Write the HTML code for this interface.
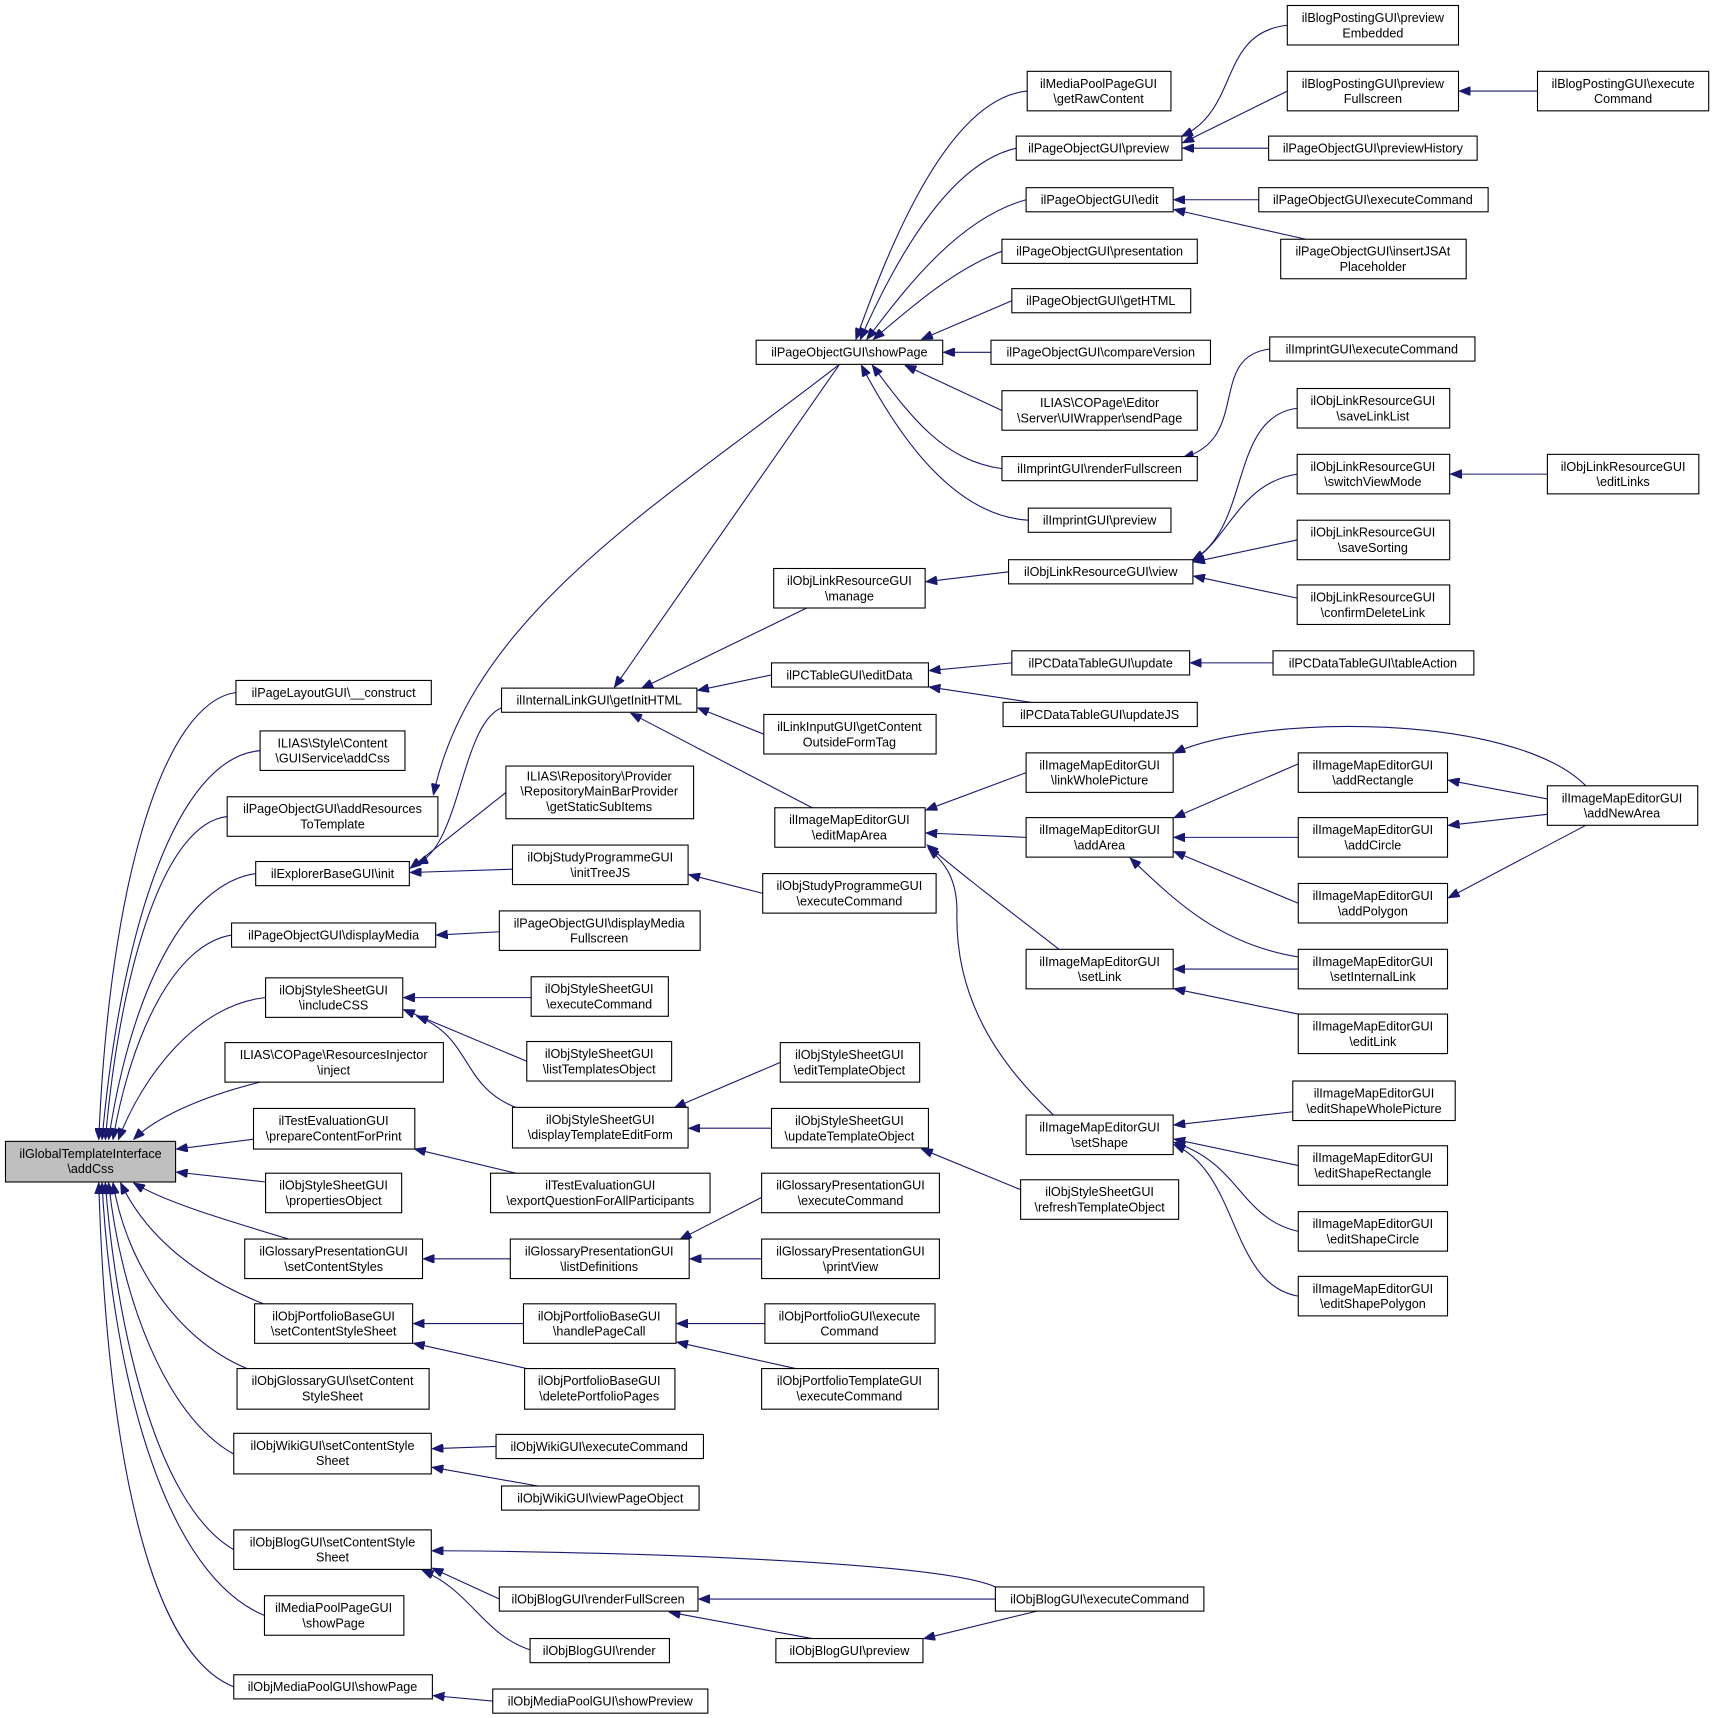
<!DOCTYPE html>
<html><head><meta charset="utf-8"><style>
html,body{margin:0;padding:0;background:#fff;}
svg{display:block;}
text{font-family:"Liberation Sans",Arial,sans-serif;font-size:11.5px;text-anchor:middle;fill:#000;}
rect{fill:#fff;stroke:#000;stroke-width:1;}
path{fill:none;stroke:#191970;stroke-width:1;}
</style></head><body>
<svg width="1712" height="1718" viewBox="0 0 1560 1565.4" preserveAspectRatio="none" xmlns="http://www.w3.org/2000/svg">
<defs><marker id="a" markerUnits="userSpaceOnUse" markerWidth="11" markerHeight="8" refX="10" refY="4" orient="auto"><path d="M0 0 L10 4 L0 8 Z" style="fill:#191970;stroke:#191970"/></marker></defs>
<g marker-end="url(#a)">
<!-- into main node -->
<path d="M215 631 C150 640,100 800,90 1038"/>
<path d="M237 684 C160 690,110 850,93 1038"/>
<path d="M207 744 C150 750,110 880,96 1038"/>
<path d="M233 796 C170 805,120 900,99 1038"/>
<path d="M211 852 C160 860,120 940,103 1038"/>
<path d="M242 909 C180 915,130 980,108 1038"/>
<path d="M237 986 C180 1000,140 1020,122 1038"/>
<path d="M231 1038 L161 1047"/>
<path d="M242 1077 L161 1068"/>
<path d="M263 1129 C200 1110,150 1095,122 1078"/>
<path d="M240 1188 C170 1160,130 1120,110 1078"/>
<path d="M225 1247 C160 1220,115 1150,103 1078"/>
<path d="M213 1325 C150 1290,110 1180,99 1078"/>
<path d="M213 1412 C140 1370,105 1200,96 1078"/>
<path d="M241 1472 C140 1430,100 1220,93 1078"/>
<path d="M213 1537 C120 1500,95 1250,90 1078"/>
<!-- col1/col2 -->
<path d="M765 332 C600 460,430 560,395 724"/>
<path d="M457 645 C420 660,420 770,380 787"/>
<path d="M461 722 L374 791"/>
<path d="M467 792 L374 795"/>
<path d="M765 332 L560 626"/>
<path d="M735 554 L585 627"/>
<path d="M703 615 L636 629"/>
<path d="M696 669 L636 645"/>
<path d="M740 736 L575 650"/>
<path d="M695 814 L628 797"/>
<path d="M455 849 L398 852"/>
<path d="M484 909 L368 909"/>
<path d="M480 967 L368 920"/>
<path d="M470 1009 C420 990,430 945,380 926"/>
<path d="M711 968 L615 1009"/>
<path d="M703 1028 L628 1028"/>
<path d="M930 1084 L840 1047"/>
<path d="M470 1069 L378 1047"/>
<path d="M465 1147 L386 1147"/>
<path d="M694 1091 L620 1129"/>
<path d="M694 1147 L629 1147"/>
<path d="M477 1206 L377 1206"/>
<path d="M480 1247 L377 1224"/>
<path d="M697 1206 L617 1206"/>
<path d="M725 1247 L617 1223"/>
<path d="M452 1318 L394 1320"/>
<path d="M490 1354 L394 1337"/>
<path d="M907 1446 C850 1420,500 1413,394 1413"/>
<path d="M455 1457 L394 1429"/>
<path d="M485 1504 C440 1490,430 1450,385 1431"/>
<path d="M907 1457 L637 1457"/>
<path d="M740 1493 L610 1469"/>
<path d="M945 1468 L842 1493"/>
<path d="M449 1550 L395 1545"/>
<!-- showPage -->
<path d="M936 83 C860 90,805 240,780 309"/>
<path d="M926 135 C860 150,810 250,784 309"/>
<path d="M935 182 C870 200,820 270,790 309"/>
<path d="M913 229 C870 245,830 280,796 309"/>
<path d="M922 274 L840 309"/>
<path d="M903 321 L860 321"/>
<path d="M913 374 L825 333"/>
<path d="M913 427 C860 420,830 380,795 333"/>
<path d="M937 474 C870 470,820 400,785 333"/>
<path d="M1173 23 C1110 30,1130 100,1077 124"/>
<path d="M1173 83 L1078 130"/>
<path d="M1156 135 L1078 135"/>
<path d="M1401 83 L1330 83"/>
<path d="M1147 182 L1070 182"/>
<path d="M1190 218 L1070 191"/>
<path d="M1157 318 C1100 325,1140 400,1078 417"/>
<path d="M919 521 L844 530"/>
<path d="M1182 372 C1120 380,1140 480,1087 510"/>
<path d="M1182 432 C1130 440,1120 490,1087 511"/>
<path d="M1182 492 L1088 512"/>
<path d="M1182 545 L1088 525"/>
<path d="M1410 432 L1322 432"/>
<path d="M922 604 L847 611"/>
<path d="M940 640 L847 626"/>
<path d="M1160 604 L1085 604"/>
<path d="M935 704 L844 738"/>
<path d="M935 763 L844 759"/>
<path d="M965 865 C920 830,880 800,845 770"/>
<path d="M960 1016 C900 960,870 900,872 830 C872 800,860 785,846 773"/>
<path d="M1445 716 C1380 650,1150 650,1070 686"/>
<path d="M1183 696 L1070 745"/>
<path d="M1183 763 L1070 763"/>
<path d="M1183 823 L1070 776"/>
<path d="M1183 872 C1110 860,1070 820,1030 782"/>
<path d="M1183 883 L1070 883"/>
<path d="M1183 924 L1070 901"/>
<path d="M1410 728 L1320 711"/>
<path d="M1410 742 L1320 752"/>
<path d="M1445 752 L1320 818"/>
<path d="M1178 1013 L1070 1025"/>
<path d="M1183 1062 L1070 1038"/>
<path d="M1183 1122 C1130 1110,1130 1060,1070 1041"/>
<path d="M1183 1181 C1120 1170,1130 1070,1070 1043"/>
</g>
<!-- main -->
<rect x="5" y="1040" width="155" height="37" style="fill:#bfbfbf"/>
<text x="82.5" y="1055">ilGlobalTemplateInterface</text><text x="82.5" y="1069">\addCss</text>
<g>
<rect x="215" y="620" width="178" height="22"/><text x="304" y="635">ilPageLayoutGUI\__construct</text>
<rect x="237" y="666" width="132" height="36"/><text x="303" y="681">ILIAS\Style\Content</text><text x="303" y="695">\GUIService\addCss</text>
<rect x="207" y="726" width="192" height="36"/><text x="303" y="741">ilPageObjectGUI\addResources</text><text x="303" y="755">ToTemplate</text>
<rect x="233" y="785" width="140" height="22"/><text x="303" y="800">ilExplorerBaseGUI\init</text>
<rect x="211" y="841" width="186" height="22"/><text x="304" y="856">ilPageObjectGUI\displayMedia</text>
<rect x="242" y="891" width="125" height="36"/><text x="304" y="906">ilObjStyleSheetGUI</text><text x="304" y="920">\includeCSS</text>
<rect x="205" y="950" width="199" height="36"/><text x="304" y="965">ILIAS\COPage\ResourcesInjector</text><text x="304" y="979">\inject</text>
<rect x="231" y="1010" width="147" height="37"/><text x="304" y="1025">ilTestEvaluationGUI</text><text x="304" y="1039">\prepareContentForPrint</text>
<rect x="242" y="1069" width="124" height="36"/><text x="304" y="1084">ilObjStyleSheetGUI</text><text x="304" y="1098">\propertiesObject</text>
<rect x="223" y="1129" width="162" height="36"/><text x="304" y="1144">ilGlossaryPresentationGUI</text><text x="304" y="1158">\setContentStyles</text>
<rect x="232" y="1188" width="144" height="36"/><text x="304" y="1203">ilObjPortfolioBaseGUI</text><text x="304" y="1217">\setContentStyleSheet</text>
<rect x="216" y="1247" width="175" height="37"/><text x="303" y="1262">ilObjGlossaryGUI\setContent</text><text x="303" y="1276">StyleSheet</text>
<rect x="213" y="1306" width="180" height="37"/><text x="303" y="1321">ilObjWikiGUI\setContentStyle</text><text x="303" y="1335">Sheet</text>
<rect x="213" y="1394" width="180" height="36"/><text x="303" y="1409">ilObjBlogGUI\setContentStyle</text><text x="303" y="1423">Sheet</text>
<rect x="241" y="1454" width="127" height="36"/><text x="304" y="1469">ilMediaPoolPageGUI</text><text x="304" y="1483">\showPage</text>
<rect x="213" y="1526" width="181" height="22"/><text x="303" y="1541">ilObjMediaPoolGUI\showPage</text>

<rect x="457" y="627" width="178" height="22"/><text x="546" y="642">ilInternalLinkGUI\getInitHTML</text>
<rect x="461" y="698" width="171" height="48"/><text x="546" y="711">ILIAS\Repository\Provider</text><text x="546" y="725">\RepositoryMainBarProvider</text><text x="546" y="739">\getStaticSubItems</text>
<rect x="467" y="770" width="160" height="36"/><text x="547" y="785">ilObjStudyProgrammeGUI</text><text x="547" y="799">\initTreeJS</text>
<rect x="455" y="830" width="183" height="36"/><text x="546" y="845">ilPageObjectGUI\displayMedia</text><text x="546" y="859">Fullscreen</text>
<rect x="484" y="890" width="125" height="36"/><text x="546" y="905">ilObjStyleSheetGUI</text><text x="546" y="919">\executeCommand</text>
<rect x="480" y="949" width="132" height="36"/><text x="546" y="964">ilObjStyleSheetGUI</text><text x="546" y="978">\listTemplatesObject</text>
<rect x="467" y="1009" width="160" height="37"/><text x="547" y="1024">ilObjStyleSheetGUI</text><text x="547" y="1038">\displayTemplateEditForm</text>
<rect x="447" y="1069" width="200" height="36"/><text x="547" y="1084">ilTestEvaluationGUI</text><text x="547" y="1098">\exportQuestionForAllParticipants</text>
<rect x="465" y="1129" width="163" height="36"/><text x="546" y="1144">ilGlossaryPresentationGUI</text><text x="546" y="1158">\listDefinitions</text>
<rect x="477" y="1188" width="139" height="36"/><text x="546" y="1203">ilObjPortfolioBaseGUI</text><text x="546" y="1217">\handlePageCall</text>
<rect x="478" y="1247" width="137" height="37"/><text x="546" y="1262">ilObjPortfolioBaseGUI</text><text x="546" y="1276">\deletePortfolioPages</text>
<rect x="452" y="1307" width="189" height="22"/><text x="546" y="1322">ilObjWikiGUI\executeCommand</text>
<rect x="457" y="1354" width="180" height="22"/><text x="547" y="1369">ilObjWikiGUI\viewPageObject</text>
<rect x="455" y="1446" width="181" height="22"/><text x="545" y="1461">ilObjBlogGUI\renderFullScreen</text>
<rect x="483" y="1493" width="127" height="22"/><text x="546" y="1508">ilObjBlogGUI\render</text>
<rect x="449" y="1539" width="196" height="22"/><text x="547" y="1554">ilObjMediaPoolGUI\showPreview</text>

<rect x="689" y="310" width="170" height="22"/><text x="774" y="325">ilPageObjectGUI\showPage</text>
<rect x="705" y="518" width="138" height="36"/><text x="774" y="533">ilObjLinkResourceGUI</text><text x="774" y="547">\manage</text>
<rect x="703" y="604" width="143" height="22"/><text x="774" y="619">ilPCTableGUI\editData</text>
<rect x="696" y="651" width="157" height="36"/><text x="774" y="666">ilLinkInputGUI\getContent</text><text x="774" y="680">OutsideFormTag</text>
<rect x="706" y="736" width="137" height="36"/><text x="774" y="751">ilImageMapEditorGUI</text><text x="774" y="765">\editMapArea</text>
<rect x="695" y="796" width="158" height="36"/><text x="774" y="811">ilObjStudyProgrammeGUI</text><text x="774" y="825">\executeCommand</text>
<rect x="711" y="950" width="127" height="36"/><text x="774" y="965">ilObjStyleSheetGUI</text><text x="774" y="979">\editTemplateObject</text>
<rect x="703" y="1010" width="143" height="36"/><text x="774" y="1025">ilObjStyleSheetGUI</text><text x="774" y="1039">\updateTemplateObject</text>
<rect x="694" y="1069" width="162" height="36"/><text x="775" y="1084">ilGlossaryPresentationGUI</text><text x="775" y="1098">\executeCommand</text>
<rect x="694" y="1129" width="162" height="36"/><text x="775" y="1144">ilGlossaryPresentationGUI</text><text x="775" y="1158">\printView</text>
<rect x="697" y="1188" width="155" height="36"/><text x="774" y="1203">ilObjPortfolioGUI\execute</text><text x="774" y="1217">Command</text>
<rect x="694" y="1247" width="161" height="37"/><text x="774" y="1262">ilObjPortfolioTemplateGUI</text><text x="774" y="1276">\executeCommand</text>
<rect x="707" y="1493" width="134" height="22"/><text x="774" y="1508">ilObjBlogGUI\preview</text>

<rect x="936" y="65" width="131" height="36"/><text x="1001" y="80">ilMediaPoolPageGUI</text><text x="1001" y="94">\getRawContent</text>
<rect x="926" y="124" width="151" height="22"/><text x="1001" y="139">ilPageObjectGUI\preview</text>
<rect x="935" y="171" width="134" height="22"/><text x="1002" y="186">ilPageObjectGUI\edit</text>
<rect x="913" y="218" width="178" height="22"/><text x="1002" y="233">ilPageObjectGUI\presentation</text>
<rect x="922" y="263" width="163" height="22"/><text x="1003" y="278">ilPageObjectGUI\getHTML</text>
<rect x="903" y="310" width="200" height="22"/><text x="1003" y="325">ilPageObjectGUI\compareVersion</text>
<rect x="913" y="356" width="178" height="36"/><text x="1002" y="371">ILIAS\COPage\Editor</text><text x="1002" y="385">\Server\UIWrapper\sendPage</text>
<rect x="913" y="416" width="178" height="22"/><text x="1002" y="431">ilImprintGUI\renderFullscreen</text>
<rect x="937" y="463" width="130" height="22"/><text x="1002" y="478">ilImprintGUI\preview</text>
<rect x="919" y="510" width="168" height="22"/><text x="1003" y="525">ilObjLinkResourceGUI\view</text>
<rect x="922" y="593" width="162" height="22"/><text x="1003" y="608">ilPCDataTableGUI\update</text>
<rect x="914" y="640" width="177" height="22"/><text x="1002" y="655">ilPCDataTableGUI\updateJS</text>
<rect x="935" y="686" width="134" height="36"/><text x="1002" y="701">ilImageMapEditorGUI</text><text x="1002" y="715">\linkWholePicture</text>
<rect x="935" y="745" width="134" height="36"/><text x="1002" y="760">ilImageMapEditorGUI</text><text x="1002" y="774">\addArea</text>
<rect x="935" y="865" width="134" height="36"/><text x="1002" y="880">ilImageMapEditorGUI</text><text x="1002" y="894">\setLink</text>
<rect x="935" y="1016" width="134" height="36"/><text x="1002" y="1031">ilImageMapEditorGUI</text><text x="1002" y="1045">\setShape</text>
<rect x="930" y="1075" width="144" height="36"/><text x="1002" y="1090">ilObjStyleSheetGUI</text><text x="1002" y="1104">\refreshTemplateObject</text>
<rect x="907" y="1446" width="190" height="22"/><text x="1002" y="1461">ilObjBlogGUI\executeCommand</text>

<rect x="1173" y="5" width="156" height="36"/><text x="1251" y="20">ilBlogPostingGUI\preview</text><text x="1251" y="34">Embedded</text>
<rect x="1173" y="65" width="156" height="36"/><text x="1251" y="80">ilBlogPostingGUI\preview</text><text x="1251" y="94">Fullscreen</text>
<rect x="1156" y="124" width="190" height="22"/><text x="1251" y="139">ilPageObjectGUI\previewHistory</text>
<rect x="1147" y="171" width="209" height="22"/><text x="1251" y="186">ilPageObjectGUI\executeCommand</text>
<rect x="1167" y="218" width="169" height="36"/><text x="1251" y="233">ilPageObjectGUI\insertJSAt</text><text x="1251" y="247">Placeholder</text>
<rect x="1157" y="307" width="187" height="22"/><text x="1250" y="322">ilImprintGUI\executeCommand</text>
<rect x="1182" y="354" width="139" height="36"/><text x="1251" y="369">ilObjLinkResourceGUI</text><text x="1251" y="383">\saveLinkList</text>
<rect x="1182" y="414" width="139" height="36"/><text x="1251" y="429">ilObjLinkResourceGUI</text><text x="1251" y="443">\switchViewMode</text>
<rect x="1182" y="474" width="139" height="36"/><text x="1251" y="489">ilObjLinkResourceGUI</text><text x="1251" y="503">\saveSorting</text>
<rect x="1182" y="533" width="139" height="36"/><text x="1251" y="548">ilObjLinkResourceGUI</text><text x="1251" y="562">\confirmDeleteLink</text>
<rect x="1160" y="593" width="183" height="22"/><text x="1251" y="608">ilPCDataTableGUI\tableAction</text>
<rect x="1183" y="686" width="136" height="36"/><text x="1251" y="701">ilImageMapEditorGUI</text><text x="1251" y="715">\addRectangle</text>
<rect x="1183" y="745" width="136" height="36"/><text x="1251" y="760">ilImageMapEditorGUI</text><text x="1251" y="774">\addCircle</text>
<rect x="1183" y="805" width="136" height="36"/><text x="1251" y="820">ilImageMapEditorGUI</text><text x="1251" y="834">\addPolygon</text>
<rect x="1183" y="865" width="136" height="36"/><text x="1251" y="880">ilImageMapEditorGUI</text><text x="1251" y="894">\setInternalLink</text>
<rect x="1183" y="924" width="136" height="36"/><text x="1251" y="939">ilImageMapEditorGUI</text><text x="1251" y="953">\editLink</text>
<rect x="1178" y="985" width="148" height="36"/><text x="1252" y="1000">ilImageMapEditorGUI</text><text x="1252" y="1014">\editShapeWholePicture</text>
<rect x="1183" y="1044" width="136" height="36"/><text x="1251" y="1059">ilImageMapEditorGUI</text><text x="1251" y="1073">\editShapeRectangle</text>
<rect x="1183" y="1104" width="136" height="36"/><text x="1251" y="1119">ilImageMapEditorGUI</text><text x="1251" y="1133">\editShapeCircle</text>
<rect x="1183" y="1163" width="136" height="36"/><text x="1251" y="1178">ilImageMapEditorGUI</text><text x="1251" y="1192">\editShapePolygon</text>

<rect x="1401" y="65" width="156" height="36"/><text x="1479" y="80">ilBlogPostingGUI\execute</text><text x="1479" y="94">Command</text>
<rect x="1410" y="414" width="138" height="36"/><text x="1479" y="429">ilObjLinkResourceGUI</text><text x="1479" y="443">\editLinks</text>
<rect x="1410" y="716" width="137" height="36"/><text x="1478" y="731">ilImageMapEditorGUI</text><text x="1478" y="745">\addNewArea</text>
</g>
</svg>
</body></html>
